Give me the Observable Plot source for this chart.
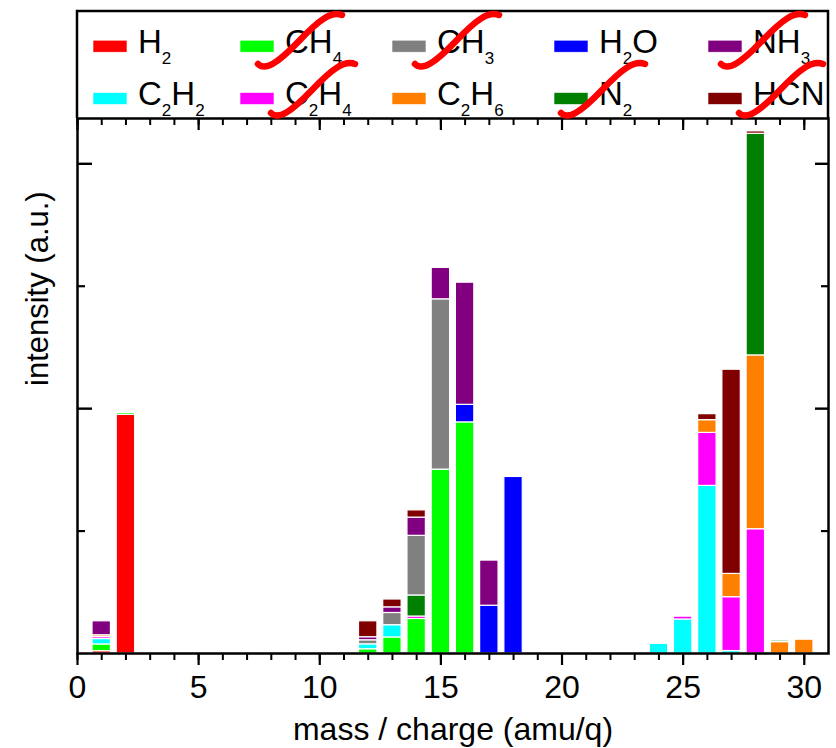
<!DOCTYPE html>
<html>
<head>
<meta charset="utf-8">
<script src="https://cdn.jsdelivr.net/npm/d3@7"></script>
<script src="https://cdn.jsdelivr.net/npm/@observablehq/plot@0.6"></script>
<style>
  html, body { margin: 0; padding: 0; background: #fff; }
  #wrap { position: relative; width: 836px; height: 748px; font-family: "Liberation Sans", Arial, sans-serif; }
  #wrap > svg { position: absolute; left: 0; top: 0; }
</style>
</head>
<body>
<div id="wrap"></div>
<script>
// ---- data ----
const masses = [1, 2, 12, 13, 14, 15, 16, 17, 18, 24, 25, 26, 27, 28, 29, 30];
const speciesLegend = ["H2", "CH4", "CH3", "H2O", "NH3", "C2H2", "C2H4", "C2H6", "N2", "HCN"];
const speciesColors = ["#ff0000", "#00ff00", "#808080", "#0000ff", "#800080", "#00ffff", "#ff00ff", "#ff8000", "#008000", "#800000"];
const stackOrder = ["H2", "CH4", "C2H2", "C2H4", "C2H6", "N2", "CH3", "H2O", "NH3", "HCN"];
const H2   = [0.019, 1.95, 0, 0, 0, 0, 0, 0, 0, 0, 0, 0, 0, 0, 0, 0];
const CH4  = [0.055, 0.015, 0.035, 0.131, 0.282, 1.502, 1.888, 0, 0, 0, 0, 0, 0, 0, 0, 0];
const CH3  = [0, 0, 0.033, 0.10, 0.487, 1.391, 0, 0, 0, 0, 0, 0, 0, 0, 0, 0];
const H2O  = [0, 0, 0, 0, 0, 0, 0.143, 0.39, 1.442, 0, 0, 0, 0, 0, 0, 0];
const NH3  = [0.114, 0, 0.025, 0.046, 0.149, 0.257, 0.998, 0.369, 0, 0, 0, 0, 0, 0, 0, 0];
const C2H2 = [0.044, 0, 0.04, 0.10, 0, 0, 0, 0, 0, 0.079, 0.278, 1.369, 0.02, 0, 0, 0];
const C2H4 = [0.016, 0, 0, 0, 0.02, 0, 0, 0, 0, 0, 0.023, 0.433, 0.44, 1.015, 0, 0];
const C2H6 = [0.015, 0, 0, 0, 0, 0, 0, 0, 0, 0, 0, 0.104, 0.19, 1.42, 0.093, 0.113];
const N2   = [0, 0, 0, 0, 0.172, 0, 0, 0, 0, 0, 0, 0, 0, 1.81, 0.012, 0];
const HCN  = [0, 0, 0.13, 0.064, 0.059, 0, 0, 0, 0, 0, 0, 0.049, 1.668, 0.02, 0, 0];
const xMajorTicks = [0, 5, 10, 15, 20, 25, 30];
const xMinorTicks = d3.range(0, 31, 1);
const yMajorTicks = [2, 4];
const yMinorTicks = [1, 3];
const xLabel = "mass / charge (amu/q)";
const yLabel = "intensity (a.u.)";
// legend labels as [text, isSubscript] parts
const legendLabels = {
  H2: [["H", 0], ["2", 1]],
  CH4: [["CH", 0], ["4", 1]],
  CH3: [["CH", 0], ["3", 1]],
  H2O: [["H", 0], ["2", 1], ["O", 0]],
  NH3: [["NH", 0], ["3", 1]],
  C2H2: [["C", 0], ["2", 1], ["H", 0], ["2", 1]],
  C2H4: [["C", 0], ["2", 1], ["H", 0], ["4", 1]],
  C2H6: [["C", 0], ["2", 1], ["H", 0], ["6", 1]],
  N2: [["N", 0], ["2", 1]],
  HCN: [["HCN", 0]]
};
const struck = ["CH4", "CH3", "NH3", "C2H4", "N2", "HCN"];

// ---- build stacked rows ----
const values = {H2, CH4, CH3, H2O, NH3, C2H2, C2H4, C2H6, N2, HCN};
const rows = [];
masses.forEach((m, i) => {
  let acc = 0;
  for (const s of stackOrder) {
    const v = values[s][i];
    if (v > 0) { rows.push({mass: m, species: s, y1: acc, y2: acc + v}); acc += v; }
  }
});

const half = 0.38;
const FONT = "Liberation Sans, Arial, sans-serif";
const W = 836, H = 748, mL = 77, mR = 8, mT = 118, mB = 95;
const fw = W - mL - mR, fh = H - mT - mB;

const chart = Plot.plot({
  width: W, height: H,
  marginLeft: mL, marginRight: mR, marginTop: mT, marginBottom: mB,
  style: {fontFamily: FONT, background: "transparent", color: "#000"},
  x: {domain: [0, 31]},
  y: {domain: [0, 4.37], axis: null},
  color: {domain: speciesLegend, range: speciesColors},
  marks: [
    Plot.rect(rows, {x1: d => d.mass - half, x2: d => d.mass + half, y1: "y1", y2: "y2", fill: "species", stroke: "white", strokeWidth: 1.2}),
    Plot.axisX({ticks: xMajorTicks, tickSize: 12, tickPadding: 10, fontSize: 32, strokeWidth: 2.2, label: null, tickFormat: d => String(d)}),
    Plot.axisX({ticks: xMinorTicks, tickSize: 7, strokeWidth: 2, label: null, tickFormat: () => ""}),
    // top inward ticks
    Plot.tickX(xMajorTicks, {x: d => d, insetBottom: fh - 12, strokeWidth: 2.2}),
    Plot.tickX(xMinorTicks, {x: d => d, insetBottom: fh - 7, strokeWidth: 2}),
    // left/right inward ticks
    Plot.tickY(yMajorTicks, {y: d => d, insetRight: fw - 15, strokeWidth: 2.4}),
    Plot.tickY(yMinorTicks, {y: d => d, insetRight: fw - 8, strokeWidth: 2.2}),
    Plot.tickY(yMajorTicks, {y: d => d, insetLeft: fw - 13, strokeWidth: 2.4}),
    Plot.tickY(yMinorTicks, {y: d => d, insetLeft: fw - 7, strokeWidth: 2.2}),
    Plot.frame({stroke: "#000", strokeWidth: 2.5}),
    Plot.text([xLabel], {text: d => d, frameAnchor: "bottom", dy: 76, fontSize: 32, lineAnchor: "middle"}),
    Plot.text([yLabel], {text: d => d, frameAnchor: "left", dx: -39, rotate: -90, fontSize: 31, lineAnchor: "middle"})
  ]
});
document.getElementById("wrap").appendChild(chart);

// ---- legend box overlay (inside top band of the frame) ----
const lg = d3.create("svg").attr("width", W).attr("height", 122)
  .style("font-family", FONT).style("pointer-events", "none");
lg.append("path").attr("d", `M${mL},${mT} V11 H${W - mR} V${mT}`)
  .attr("fill", "none").attr("stroke", "#000").attr("stroke-width", 2.5);
const colX = [93, 240, 392, 554, 708];
const rowY = [52.7, 105];
speciesLegend.forEach((s, i) => {
  const c = i % 5, r = Math.floor(i / 5);
  const sx = colX[c], by = rowY[r];
  lg.append("rect").attr("x", sx).attr("y", by - 12.5).attr("width", 34).attr("height", 12)
    .attr("fill", speciesColors[i]).attr("stroke", "#fff").attr("stroke-width", 0.6);
  const t = lg.append("text").attr("x", sx + 45).attr("y", by).attr("font-size", 33).attr("fill", "#000");
  let shifted = false;
  for (const [str, sub] of legendLabels[s]) {
    const ts = t.append("tspan").text(str);
    if (sub && !shifted) { ts.attr("font-size", 17).attr("dy", 11); shifted = true; }
    else if (!sub && shifted) { ts.attr("dy", -11); shifted = false; }
    else if (sub) ts.attr("font-size", 17);
  }
});
// red strike swooshes over some legend entries (lower-left start positions)
const swooshAt = {CH4: [257, 68], CH3: [414, 68], NH3: [720, 68], C2H4: [270, 117], N2: [560, 117], HCN: [738, 117]};
for (const s of struck) {
  const [x0, y0] = swooshAt[s];
  const g = lg.append("g").attr("transform", `translate(${x0},${y0 - 56})`);
  g.append("path")
    .attr("d", "M1,52 C8,59 20,52 42,29 C62,8 74,-1 85,3")
    .attr("fill", "none").attr("stroke", "#ff0000").attr("stroke-width", 6.5)
    .attr("stroke-linecap", "round").attr("stroke-linejoin", "round");
}
document.getElementById("wrap").appendChild(lg.node());
</script>
</body>
</html>
